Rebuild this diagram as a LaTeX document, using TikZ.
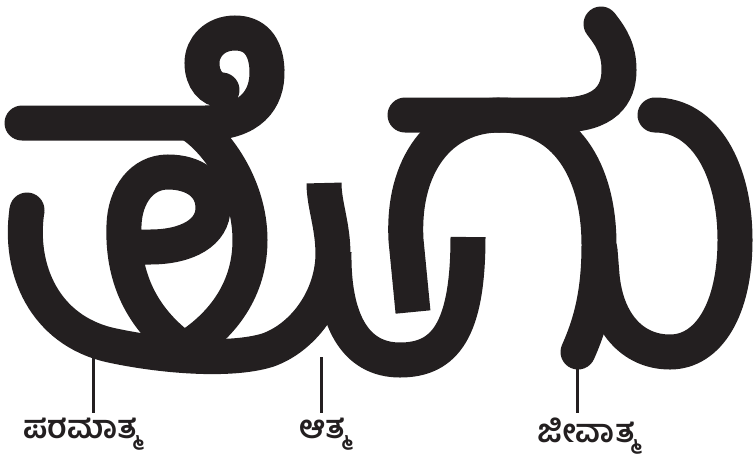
\documentclass[tikz,border=0pt]{standalone}
\usepackage{fontspec}
\newfontfamily\kn[Script=Kannada]{Hind Mysuru}
\definecolor{ink}{HTML}{231F20}
\begin{document}
\begin{tikzpicture}[x=1pt,y=-1pt,
  gs/.style={draw=ink,line width=35pt},
  ln/.style={draw=ink,line width=3pt},
  lab/.style={text=ink,anchor=north,inner xsep=0pt,inner ysep=5pt,font=\kn\bfseries\fontsize{32}{32}\selectfont}]
\useasboundingbox (0,0) rectangle (755,467);
% first letter: head stroke with curl
\draw[gs,line cap=round] (22,123) -- (205,123) .. controls (250,123) and (268,100) .. (267,70) .. controls (266,45) and (254,33) .. (235,33) .. controls (215,33) and (202,47) .. (202,63) .. controls (202,80) and (212,90) .. (222,90);
% big bottom stroke
\draw[gs,line cap=butt] (324,183) .. controls (324,205) and (333,225) .. (333,255) .. controls (332,300) and (302,338) .. (268,350) .. controls (230,362) and (160,356) .. (110,345) .. controls (45,330) and (18,270) .. (27,210);
\fill[ink] (27,210) circle (17.5pt);
% small loop with its tail
\draw[gs,line cap=round] (126,247) -- (150,247) .. controls (188,247) and (213,232) .. (213,208) .. controls (213,185) and (194,172) .. (168,172) .. controls (142,172) and (125,195) .. (124,225) .. controls (122,275) and (140,315) .. (178,345);
% right lobe
\draw[gs,line cap=round] (192,125) .. controls (215,140) and (250,185) .. (250,240) .. controls (250,290) and (222,325) .. (188,347);
% middle bowl
\draw[gs,line cap=butt] (334,252) .. controls (333,320) and (355,360) .. (400,360) .. controls (445,360) and (468,330) .. (468,237);
% second letter: head stroke with curl
\draw[gs,line cap=round] (405,115) -- (560,115) .. controls (605,115) and (619,95) .. (619,70) .. controls (619,50) and (612,38) .. (601,24);
% arch
\draw[gs,line cap=butt] (413,312) -- (406,240) .. controls (402,165) and (440,115) .. (500,115);
\draw[gs,line cap=round] (500,115) .. controls (565,115) and (599,170) .. (599,245) .. controls (599,295) and (590,325) .. (578,352);
% vowel sign u
\draw[gs,line cap=round] (655,115) .. controls (705,115) and (735,170) .. (735,240) .. controls (735,310) and (708,352) .. (670,352) .. controls (632,352) and (606,322) .. (602,275) -- (600,250);
% labels
\node[lab] (l1) at (82,413) {ಪರಮಾತ್ಮ};
\node[lab] (l2) at (324,413) {ಆತ್ಮ};
\node[lab] (l3) at (588,413) {ಜೀವಾತ್ಮ};
\coordinate (t1) at (93,358);
\coordinate (t2) at (321,357);
\coordinate (t3) at (577,366);
\draw[ln] (t1) -- (t1 |- l1.north);
\draw[ln] (t2) -- (t2 |- l2.north);
\draw[ln] (t3) -- (t3 |- l3.north);
\end{tikzpicture}
\end{document}
